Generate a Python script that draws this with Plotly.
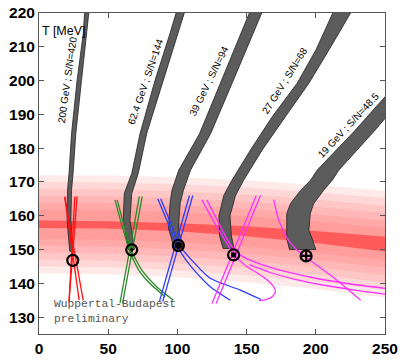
import plotly.graph_objects as go

# -- pseudo-critical band (x = mu_B [MeV], T [MeV]) --------------------------
band_mu = [0, 50, 100, 150, 200, 250]
band_center = [157.5, 157.3, 156.6, 155.4, 153.7, 151.6]
band_half = [14.5, 14.6, 14.8, 15.1, 15.4, 15.8]
stripe_half = [1.1, 1.1, 1.2, 1.5, 1.8, 2.2]
layer_frac = [1.0, 0.86, 0.72, 0.58, 0.44, 0.3]

# -- isentropic trajectories: T, left edge mu, right edge mu ------------------
traj_labels = ["200 GeV ; S/N=420", "62.4 GeV ; S/N=144", "39 GeV ; S/N=94",
               "27 GeV ; S/N=68", "19 GeV ; S/N=48.5"]
traj_T = [
    [222, 214, 200, 184.3, 172.5, 167.5, 158.7, 152, 149.5],
    [222, 214, 200, 184.3, 172.5, 166.6, 158.7, 152.2, 150],
    [222, 214, 199.2, 184.3, 173.5, 167.5, 163.6, 156.3, 152.1, 150.5],
    [222, 209, 199.2, 189.3, 179.4, 170.5, 166, 160, 154, 150.3],
    [200, 185, 173.5, 170.5, 167.5, 163.6, 160.6, 155.7, 153.2, 150],
]
traj_left = [
    [33.2, 32, 27.5, 23.5, 21.7, 20.6, 20.3, 21.5, 22.2],
    [100.5, 94.7, 83.8, 73, 67, 61.6, 60.9, 63.3, 64.5],
    [154, 146, 131, 116, 101, 96, 94.7, 93.5, 96.5, 97.5],
    [214.5, 200, 186.5, 168.5, 152.7, 139.4, 133.5, 130, 130.5, 133],
    [260.5, 227.8, 201, 196.2, 189, 181.7, 179, 179, 179, 181],
]
traj_right = [
    [36.5, 34.8, 30.7, 26.6, 24.6, 23.5, 23, 24, 24.6],
    [106.5, 100.7, 89.9, 77.8, 71.7, 67, 65.7, 68.1, 69],
    [163, 155, 139.5, 124, 109.5, 104.3, 102, 100.7, 103, 104],
    [228, 209.4, 195, 178, 161.2, 147.8, 142, 138, 139, 141],
    [273.3, 242.1, 216.7, 211.9, 205.6, 198.5, 196, 195, 197.4, 200],
]
label_mu = [20.7, 77.2, 123.1, 177.8, 223.3]
label_T = [200.2, 199.6, 199.9, 199.9, 186.8]
label_angle = [-82, -71, -64, -58, -47]

# -- freeze-out curves --------------------------------------------------------
curves = {
    "red": [
        ([18.6, 29.0], [165.6, 135.0]),
        ([18.6, 31.9], [165.6, 135.0]),
        ([25.9, 21.7], [165.7, 134.6]),
        ([27.5, 21.7], [165.7, 134.6]),
    ],
    "green": [
        ([72.5, 58.5], [165.7, 134.1]),
        ([74.6, 60.4], [165.7, 134.1]),
        ([54.9, 60, 65.7, 72, 80, 91.1], [164.7, 157, 149.4, 144, 140, 136]),
        ([56.5, 61.5, 67, 75, 85, 97.1], [164.7, 157, 149.4, 143.5, 139, 135]),
    ],
    "blue": [
        ([108.7, 87.0], [166, 134.6]),
        ([111.1, 89.4], [166, 134.6]),
        ([85.8, 93, 99.5, 106, 114, 123.7, 138.2], [165, 158, 151.3, 147, 143, 139, 135]),
        ([87.9, 95, 101.5, 110, 123.7, 145.4, 160.5], [165, 158, 151.3, 147, 141.5, 138, 135.2]),
    ],
    "magenta": [
        ([157, 125], [166, 134]),
        ([160, 128], [166, 134]),
        ([117.7, 126, 134, 141, 150, 158, 165, 169.5, 170.8, 168.5, 164, 159],
         [164.7, 158.5, 153, 148.4, 145, 143, 141, 139, 137.5, 136, 135.2, 134.9]),
        ([121.3, 129, 136, 142, 150, 165, 180, 200, 225, 250],
         [164.7, 158.5, 153, 149.5, 147.3, 145, 143.3, 141.5, 139.8, 138.5]),
        ([169.6, 173, 179.3, 186, 193.8, 202, 210.7, 221, 232.4],
         [164.8, 159, 153.3, 150, 147.4, 145, 142.4, 139, 135]),
        ([152, 167, 185, 205, 228, 250], [145.5, 143.2, 141.2, 139.5, 138, 136.8]),
    ],
}
curve_colors = {"red": "#ff1010", "green": "#2a8a2a", "blue": "#2a3cff", "magenta": "#ff30ff"}

# -- freeze-out points --------------------------------------------------------
fo_mu = [24.4, 67.0, 100.7, 140.6, 193.0]
fo_T = [146.8, 149.9, 151.2, 148.4, 148.1]
fo_symbol = ["circle-open", "circle-open-dot", "circle-open-dot", "circle-open-dot", "circle-cross-open"]

SANS = "Arial, Liberation Sans, sans-serif"

fig = go.Figure()

# red band, nested layers give the gradient
for f in layer_frac:
    lo = [c - h * f for c, h in zip(band_center, band_half)]
    hi = [c + h * f for c, h in zip(band_center, band_half)]
    fig.add_trace(go.Scatter(x=band_mu + band_mu[::-1], y=hi + lo[::-1], fill="toself",
                             fillcolor="rgba(255,60,60,0.11)", line=dict(width=0),
                             mode="lines", hoverinfo="skip", showlegend=False))
lo = [c - h for c, h in zip(band_center, stripe_half)]
hi = [c + h for c, h in zip(band_center, stripe_half)]
fig.add_trace(go.Scatter(x=band_mu + band_mu[::-1], y=hi + lo[::-1], fill="toself",
                         fillcolor="rgba(255,80,80,0.85)", line=dict(width=0),
                         mode="lines", hoverinfo="skip", showlegend=False))

# gray isentropes
for T, xl, xr in zip(traj_T, traj_left, traj_right):
    fig.add_trace(go.Scatter(x=xl + xr[::-1] + [xl[0]], y=T + T[::-1] + [T[0]], fill="toself",
                             fillcolor="#5c5c5c", line=dict(color="#222", width=0.8),
                             mode="lines", hoverinfo="skip", showlegend=False))

# freeze-out curves
for name, lines in curves.items():
    for xs, ys in lines:
        fig.add_trace(go.Scatter(x=xs, y=ys, mode="lines", line=dict(color=curve_colors[name], width=1.3,
                                 shape="spline", smoothing=0.6), hoverinfo="skip", showlegend=False))

# markers
fig.add_trace(go.Scatter(x=fo_mu, y=fo_T, mode="markers", showlegend=False, hoverinfo="skip",
                         marker=dict(symbol=fo_symbol, size=11, color="black",
                                     line=dict(color="black", width=2.2))))
fig.add_trace(go.Scatter(x=[fo_mu[2]], y=[fo_T[2]], mode="markers", showlegend=False, hoverinfo="skip",
                         marker=dict(symbol="circle", size=7, color="black")))
fig.add_trace(go.Scatter(x=[fo_mu[3]], y=[fo_T[3]], mode="markers", showlegend=False, hoverinfo="skip",
                         marker=dict(symbol="square", size=5, color="black")))

for txt, xm, ym, ang in zip(traj_labels, label_mu, label_T, label_angle):
    fig.add_annotation(x=xm, y=ym, text=txt, textangle=ang, showarrow=False,
                       font=dict(family=SANS, size=10, color="black"))

fig.add_annotation(xref="paper", x=0.004, y=214.7, xanchor="left", text="T [MeV]", showarrow=False,
                   font=dict(family=SANS, size=12.5, color="black"))
fig.add_annotation(x=9.7, y=131.8, xanchor="left", align="left", showarrow=False,
                   text="Wuppertal-Budapest<br>preliminary",
                   font=dict(family="Liberation Mono", size=11.3, color="#555"))

axis_style = dict(showgrid=False, zeroline=False, showline=True, linecolor="#555", linewidth=1,
                  mirror="ticks", ticks="inside", ticklen=5, tickcolor="#555", automargin=False,
                  tickfont=dict(family=SANS, size=15.5, color="black", weight="bold"))
fig.update_xaxes(range=[0, 250], tickvals=[0, 50, 100, 150, 200, 250], **axis_style)
fig.update_yaxes(range=[125, 220], tickvals=list(range(130, 221, 10)), **axis_style)

fig.update_layout(width=402, height=362, margin=dict(l=39, r=17, t=13, b=28),
                  plot_bgcolor="white", paper_bgcolor="white", hovermode=False)

# page body has a default 8px margin; drop it so the figure sits at the window corner
fig.write_html("out.html", config={"displayModeBar": False},
               post_script="document.body.style.margin='0';")
